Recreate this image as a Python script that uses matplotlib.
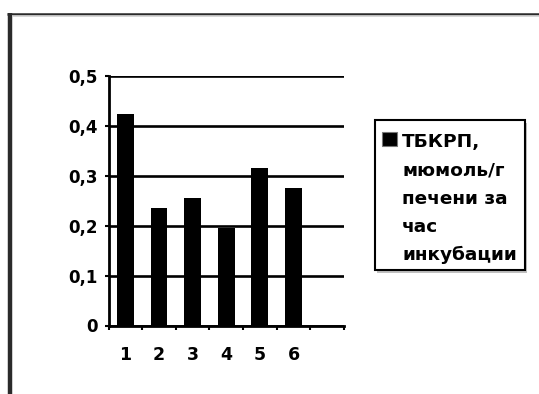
import matplotlib.pyplot as plt
from matplotlib.patches import Rectangle
from matplotlib.lines import Line2D

# данные
categories = ['1', '2', '3', '4', '5', '6']
values = [0.424, 0.236, 0.256, 0.195, 0.316, 0.276]
y_ticks = [0, 0.1, 0.2, 0.3, 0.4, 0.5]
y_labels = ['0', '0,1', '0,2', '0,3', '0,4', '0,5']
legend_lines = ['ТБКРП,', 'мюмоль/г', 'печени за', 'час', 'инкубации']

plt.rcParams['font.family'] = ['DejaVu Sans']
plt.rcParams['font.weight'] = 'bold'

W, H = 539, 394
fig = plt.figure(figsize=(W / 100, H / 100), dpi=100)
ax = fig.add_axes([108.5 / W, 1 - 325.5 / H, 235.5 / W, 250 / H])

x = list(range(1, len(categories) + 1))
ax.bar(x, values, width=0.5, color='black', zorder=3)

ax.set_xlim(0.5, len(categories) + 1.5)
ax.set_ylim(0, 0.5)

# сетка
ax.set_yticks(y_ticks)
ax.set_yticklabels(y_labels, fontsize=12, fontweight='bold')
ax.yaxis.grid(True, color='black', linewidth=1.9, zorder=1)
ax.tick_params(axis='y', length=3, width=1.5, pad=5)

ax.set_xticks(x)
ax.set_xticklabels(categories, fontsize=12.5, fontweight='bold')
ax.set_xticks([i + 0.5 for i in range(0, len(categories) + 2)], minor=True)
ax.tick_params(axis='x', which='major', length=0, pad=14.5)
ax.tick_params(axis='x', which='minor', length=3, width=1.5)

for s in ['top', 'right']:
    ax.spines[s].set_visible(False)
ax.spines['left'].set_linewidth(2)
ax.spines['bottom'].set_linewidth(2)


# легенда (координаты в пикселях)
def fx(px):
    return px / W


def fy(py):
    return 1 - py / H


fig.patches.append(Rectangle((fx(377), fy(273)), 150 / W, 150 / H, transform=fig.transFigure,
                             facecolor='#c0c0c0', edgecolor='none', zorder=1))
fig.patches.append(Rectangle((fx(375), fy(270)), 150 / W, 150 / H, transform=fig.transFigure,
                             facecolor='white', edgecolor='black', linewidth=1.5, zorder=2))
fig.patches.append(Rectangle((fx(382), fy(146)), 15 / W, 14 / H, transform=fig.transFigure,
                             facecolor='black', edgecolor='#777777', linewidth=0.8, zorder=3))
for i, line in enumerate(legend_lines):
    fig.text(fx(402), fy(147 + i * 28.3), line, fontsize=13.3, fontweight='bold',
             va='baseline', ha='left', zorder=4)

# рамка
fig.lines.append(Line2D([fx(9.5), fx(9.5)], [0, fy(12.7)], transform=fig.transFigure,
                        color='#2b2b2b', linewidth=3.2, solid_capstyle='butt'))
fig.lines.append(Line2D([fx(7.3), 1], [fy(14), fy(14)], transform=fig.transFigure,
                        color='#2b2b2b', linewidth=1.8, solid_capstyle='butt'))
fig.lines.append(Line2D([fx(11.5), 1], [fy(16), fy(16)], transform=fig.transFigure,
                        color='#d0d0d0', linewidth=1.2, solid_capstyle='butt'))

plt.savefig('out.png', dpi=100)
plt.close()
